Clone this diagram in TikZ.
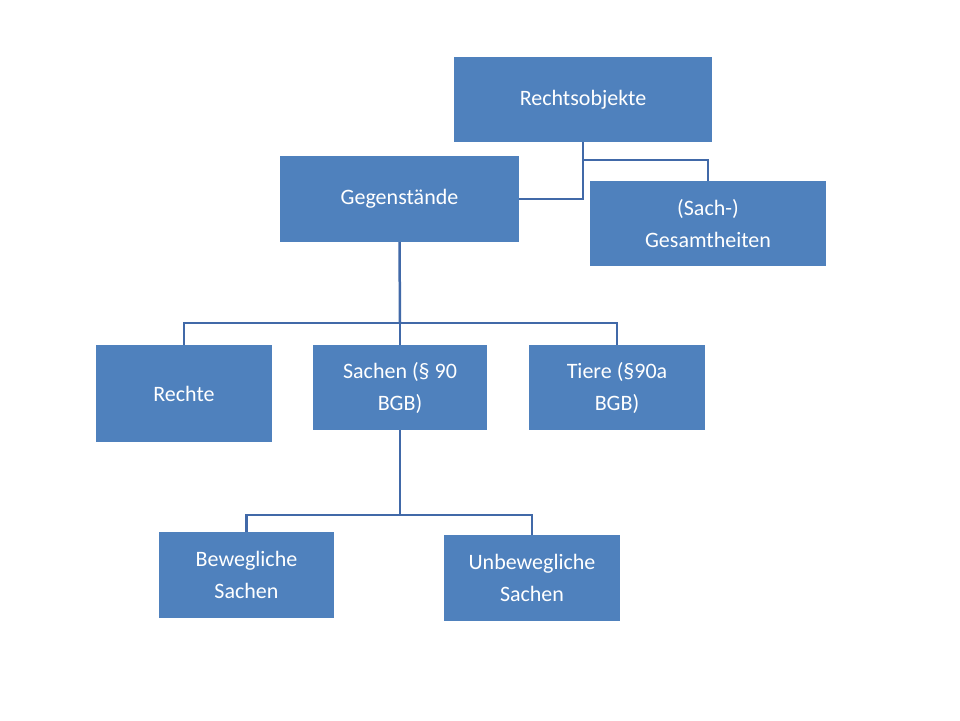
\documentclass[tikz,border=0pt]{standalone}
\usepackage{fontspec}
\setmainfont{Carlito}
\usetikzlibrary{positioning}
\definecolor{boxblue}{HTML}{4F81BD}
\definecolor{lineblue}{HTML}{4169A8}
\tikzset{
  orgbox/.style={fill=boxblue, text=white, align=center, inner sep=0pt,
    font=\fontsize{22}{32}\selectfont},
  link/.style={draw=lineblue, line width=2.5pt}
}
\begin{document}
\begin{tikzpicture}[x=1pt, y=-1pt]
\useasboundingbox (0,0) rectangle (960,720);
% Ebene 1
\node[orgbox, minimum width=258pt, minimum height=85pt] (rechtsobj) at (583,99.5) {Rechtsobjekte};
% Ebene 2
\node[orgbox, minimum width=239pt, minimum height=86pt] (gegen) at (399.5,199) {Gegenstände};
\node[orgbox, minimum width=236pt, minimum height=85pt] (gesamt) at (708,223.5) {(Sach-)\\Gesamtheiten};
% Ebene 3
\node[orgbox, minimum width=176pt, minimum height=97pt] (rechte) at (184,393.5) {Rechte};
\node[orgbox, minimum width=174pt, minimum height=85pt] (sachen) at (400,387.5) {Sachen (§ 90\\BGB)};
\node[orgbox, minimum width=176pt, minimum height=85pt] (tiere) at (617,387.5) {Tiere (§90a\\BGB)};
% Ebene 4
\node[orgbox, minimum width=175pt, minimum height=86pt] (beweg) at (246.5,575) {Bewegliche\\Sachen};
\node[orgbox, minimum width=176pt, minimum height=86pt] (unbeweg) at (532,578) {Unbewegliche\\Sachen};
% Verbindungen
\coordinate (k1) at (583,160);
\coordinate (k2) at (400,323);
\coordinate (k3) at (400,515);
\draw[link] (rechtsobj.south) -- (k1) -| (gesamt.north);
\draw[link] (k1) |- (gegen.east);
\draw[link] (gegen.south) -- (k2);
\draw[link] (k2) -| (rechte.north);
\draw[link] (k2) -| (tiere.north);
\draw[link] (k2) -- (sachen.north);
\draw[link] (sachen.south) -- (k3);
\draw[link] (k3) -| (beweg.north);
\draw[link] (k3) -| (unbeweg.north);
\end{tikzpicture}
\end{document}
